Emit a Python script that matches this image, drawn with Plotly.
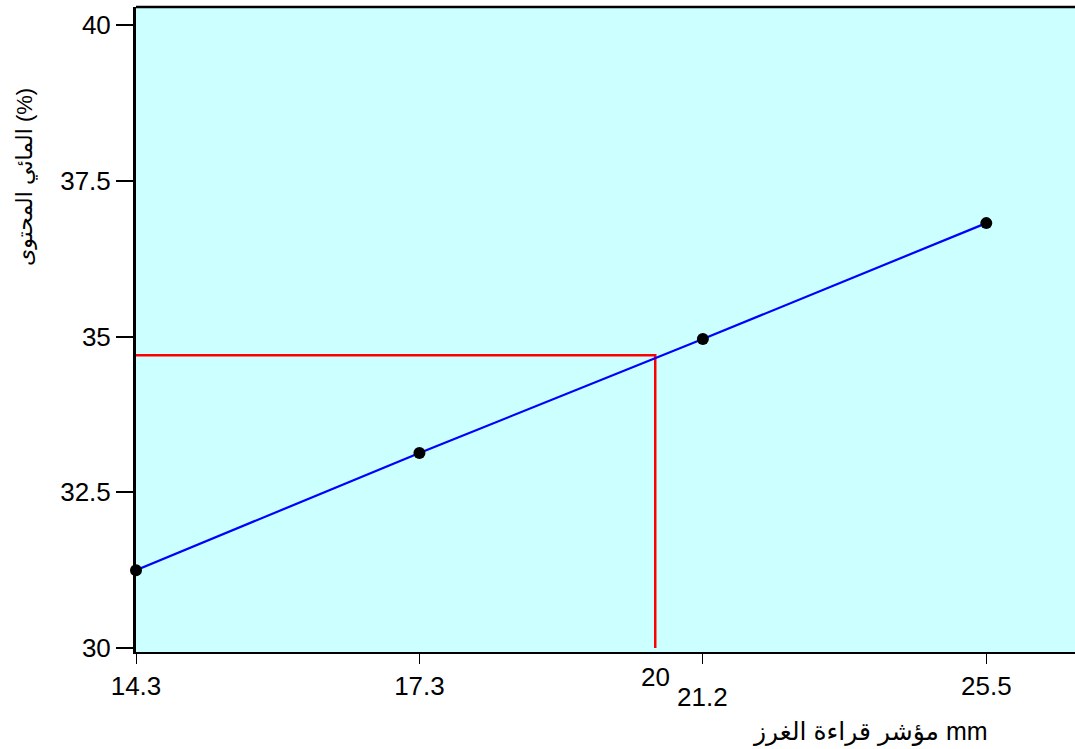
import plotly.graph_objects as go

# ---- data ----
x_labels = ["14.3", "17.3", "21.2", "25.5"]
x_pos = [0, 1, 2, 3]
moisture = [31.25, 33.13, 34.96, 36.82]
y_ticks = [30, 32.5, 35, 37.5, 40]
y_ticktext = ["30", "32.5", "35", "37.5", "40"]
ref_label = "20"
ref_pos = 1.832
ref_y = 34.70
y_min = 30

x_title = "مؤشر قراءة الغرز mm"
y_title = "المحتوى\u200E المائي\u200E (%)"

FONT = "Arial, Liberation Sans, DejaVu Sans, sans-serif"
TICK_SIZE = 26

fig = go.Figure()

# red reference lines
fig.add_trace(go.Scatter(
    x=[x_pos[0], ref_pos, ref_pos], y=[ref_y, ref_y, y_min],
    mode="lines", line=dict(color="#FF0000", width=2.5),
    hoverinfo="skip", showlegend=False, cliponaxis=False))

# fitted line with points
fig.add_trace(go.Scatter(
    x=x_pos, y=moisture, mode="lines+markers",
    line=dict(color="#0000FF", width=2.2),
    marker=dict(color="black", size=12),
    showlegend=False, cliponaxis=False))

tick_text = [t if t != "21.2" else "" for t in x_labels]

fig.update_layout(
    width=1075, height=749,
    margin=dict(l=136, r=0, t=7, b=97),
    paper_bgcolor="white", plot_bgcolor="#CCFFFF",
    font=dict(family=FONT, color="black"),
    xaxis=dict(
        range=[0, 3.313], tickmode="array", tickvals=x_pos, ticktext=tick_text,
        ticks="outside", ticklen=10, tickwidth=1.2, tickcolor="black",
        showline=True, linecolor="black", linewidth=2,
        showgrid=False, zeroline=False, layer="below traces",
        tickfont=dict(size=TICK_SIZE, family=FONT, color="black")),
    yaxis=dict(
        range=[29.936, 40.289], tickmode="array", tickvals=y_ticks, ticktext=y_ticktext,
        ticks="outside", ticklen=17, tickwidth=1.5, tickcolor="black",
        showline=True, linecolor="black", linewidth=3,
        showgrid=False, zeroline=False, layer="below traces",
        tickfont=dict(size=TICK_SIZE, family=FONT, color="black")),
)

# top border
fig.add_shape(type="line", xref="paper", yref="paper", x0=0, x1=1, y0=1, y1=1,
              line=dict(color="black", width=2.5))

# "20" label for reference line, and offset 21.2 label
fig.add_annotation(x=ref_pos, xref="x", y=0, yref="paper", yshift=-25,
                   text=ref_label, showarrow=False, yanchor="middle",
                   font=dict(size=TICK_SIZE, family=FONT, color="black"))
fig.add_annotation(x=x_pos[2], xref="x", y=0, yref="paper", yshift=-45,
                   text=x_labels[2], showarrow=False, yanchor="middle",
                   font=dict(size=TICK_SIZE, family=FONT, color="black"))

# axis titles
fig.add_annotation(x=2.59, xref="x", y=0, yref="paper", yshift=-79,
                   text=x_title, showarrow=False, yanchor="middle",
                   font=dict(size=25, family=FONT, color="black"))
fig.add_annotation(x=0, xref="paper", xshift=-111, y=37.56, yref="y",
                   text=y_title, textangle=-90, showarrow=False,
                   xanchor="center", yanchor="middle",
                   font=dict(size=22, family=FONT, color="black"))

fig.write_html("out.html", config={"displayModeBar": False},
               post_script="document.body.style.margin='0px';")
